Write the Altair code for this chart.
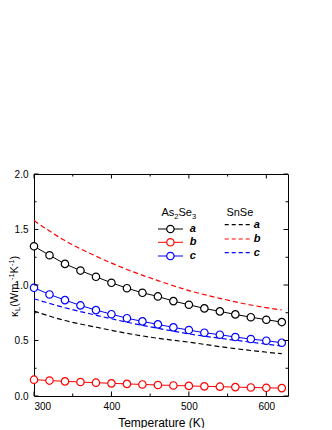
import altair as alt
import pandas as pd

# ---------------- data ----------------
series = ["a", "b", "c"]
colors = ["#000000", "#ff0000", "#0000ff"]

T_as = [300, 320, 340, 360, 380, 400, 420, 440, 460, 480, 500, 520, 540, 560, 580, 600, 620]
as_a = [1.349, 1.268, 1.19, 1.13, 1.074, 1.02, 0.971, 0.93, 0.897, 0.855, 0.822, 0.789, 0.762, 0.735, 0.71, 0.687, 0.666]
as_b = [0.147, 0.139, 0.132, 0.126, 0.120, 0.114, 0.109, 0.104, 0.099, 0.095, 0.091, 0.087, 0.084, 0.080, 0.077, 0.074, 0.071]
as_c = [0.975, 0.915, 0.864, 0.816, 0.774, 0.737, 0.701, 0.672, 0.645, 0.618, 0.594, 0.57, 0.552, 0.531, 0.513, 0.498, 0.48]

T_sn = [300, 340, 380, 420, 460, 500, 540, 580, 620]
sn_a = [0.765, 0.68, 0.62, 0.565, 0.52, 0.485, 0.445, 0.41, 0.381]
sn_b = [1.58, 1.40, 1.26, 1.14, 1.04, 0.95, 0.88, 0.82, 0.775]
sn_c = [0.876, 0.795, 0.728, 0.665, 0.61, 0.56, 0.52, 0.485, 0.45]

x_major = [300, 400, 500, 600]
x_minor = [350, 450, 550]
y_major = [0.0, 0.5, 1.0, 1.5, 2.0]
y_minor = [0.25, 0.75, 1.25, 1.75]

# ---------------- layout ----------------
W, H = 254, 222
FONT = "Liberation Sans"
MAJ, MIN = 4.5, 2.5

df_as = pd.DataFrame({
    "T": T_as * 3,
    "k": as_a + as_b + as_c,
    "s": ["a"] * len(T_as) + ["b"] * len(T_as) + ["c"] * len(T_as),
})
df_sn = pd.DataFrame({
    "T": T_sn * 3,
    "k": sn_a + sn_b + sn_c,
    "s": ["a"] * len(T_sn) + ["b"] * len(T_sn) + ["c"] * len(T_sn),
})

xs = alt.Scale(domain=[300, 628], nice=False, zero=False)
ys = alt.Scale(domain=[0, 2], nice=False, zero=False)
cs = alt.Scale(domain=series, range=colors)

x_axis = alt.Axis(values=x_major, ticks=False, domain=False, grid=False,
                  labelFont=FONT, labelFontSize=10, labelColor="black", labelPadding=5,
                  title="Temperature (K)", titleFont=FONT, titleFontSize=12,
                  titleFontWeight="normal", titleColor="black", titlePadding=6)
y_axis = alt.Axis(values=y_major, format=".1f", ticks=False, domain=False, grid=False,
                  labelFont=FONT, labelFontSize=10, labelColor="black", labelPadding=6,
                  title=None)

X = alt.X("T:Q", scale=xs, axis=x_axis)
Y = alt.Y("k:Q", scale=ys, axis=y_axis)
C = alt.Color("s:N", scale=cs, legend=None)

layers = []

# SnSe dashed lines
layers.append(alt.Chart(df_sn).mark_line(strokeDash=[5, 3], strokeWidth=1.2, interpolate="monotone")
              .encode(x=X, y=Y, color=C, detail="s:N"))
# As2Se3 lines + open circles
layers.append(alt.Chart(df_as).mark_line(strokeWidth=1).encode(x=X, y=Y, color=C, detail="s:N"))
layers.append(alt.Chart(df_as).mark_point(shape="circle", filled=False, fill="white", size=55,
                                          strokeWidth=1.2, opacity=1)
              .encode(x=X, y=Y, stroke=alt.Stroke("s:N", scale=cs, legend=None)))

# inward ticks on all four sides
def xticks(vals, L):
    d = pd.DataFrame({"T": vals})
    b = alt.Chart(d).mark_rule(color="black", strokeWidth=1).encode(x=X, y=alt.value(H), y2=alt.value(H - L))
    t = alt.Chart(d).mark_rule(color="black", strokeWidth=1).encode(x=X, y=alt.value(0), y2=alt.value(L))
    return [b, t]

def yticks(vals, L):
    d = pd.DataFrame({"k": vals})
    l = alt.Chart(d).mark_rule(color="black", strokeWidth=1).encode(y=Y, x=alt.value(0), x2=alt.value(L))
    r = alt.Chart(d).mark_rule(color="black", strokeWidth=1).encode(y=Y, x=alt.value(W), x2=alt.value(W - L))
    return [l, r]

layers += xticks(x_major, MAJ) + xticks(x_minor, MIN) + yticks(y_major, MAJ) + yticks(y_minor, MIN)

one = alt.Data(values=[{}])

def txt(s, x, y, size=11, angle=0, weight="normal", style="normal", baseline="alphabetic", align="left"):
    return alt.Chart(one).mark_text(text=s, font=FONT, fontSize=size, angle=angle, fontWeight=weight,
                                    fontStyle=style, baseline=baseline, align=align, color="black").encode(
        x=alt.value(x), y=alt.value(y))

# y-axis title: kappa_L (Wm^-1 K^-1), rotated
yx = -16.5
y0 = 143
layers.append(txt("\u03ba", yx, y0, angle=270))
layers.append(txt("L", yx + 2.5, y0 - 6.0, size=7.5, angle=270))
layers.append(txt(" (Wm", yx, y0 - 10.2, angle=270))
layers.append(txt("-1", yx - 3.5, y0 - 37.0, size=7.5, angle=270))
layers.append(txt("K", yx, y0 - 43.6, angle=270))
layers.append(txt("-1", yx - 3.5, y0 - 51.0, size=7.5, angle=270))
layers.append(txt(")", yx, y0 - 57.6, angle=270))

# legend: As2Se3
lx = 127.4
layers.append(txt("As", lx, 42))
layers.append(txt("2", lx + 12.8, 45, size=7.5))
layers.append(txt("Se", lx + 17.0, 42))
layers.append(txt("3", lx + 30.7, 45, size=7.5))
rows_as = [55, 68.3, 82]
for s, col, ry in zip(series, colors, rows_as):
    layers.append(alt.Chart(one).mark_rule(strokeWidth=1).encode(
        x=alt.value(124), x2=alt.value(149), y=alt.value(ry), color=alt.value(col)))
    layers.append(alt.Chart(one).mark_point(shape="circle", filled=False, fill="white", size=55,
                                            strokeWidth=1.2, opacity=1).encode(
        x=alt.value(136.4), y=alt.value(ry), stroke=alt.value(col)))
    layers.append(txt(s, 155.7, ry, weight="bold", style="italic", baseline="middle"))

# legend: SnSe
layers.append(txt("SnSe", 192.4, 41.5))
rows_sn = [50.7, 65, 78.7]
for s, col, ry in zip(series, colors, rows_sn):
    layers.append(alt.Chart(one).mark_rule(strokeWidth=1.2, strokeDash=[4, 3]).encode(
        x=alt.value(190.7), x2=alt.value(217.4), y=alt.value(ry), color=alt.value(col)))
    layers.append(txt(s, 219.7, ry, weight="bold", style="italic", baseline="middle"))

chart = alt.layer(*layers).properties(
    width=W, height=H,
    autosize=alt.AutoSizeParams(type="none"),
    padding={"left": 26, "top": 166, "right": 36, "bottom": 32},
).configure_view(stroke="black", strokeWidth=1)

chart.save("out.html", embed_options={"renderer": "svg", "actions": False})
